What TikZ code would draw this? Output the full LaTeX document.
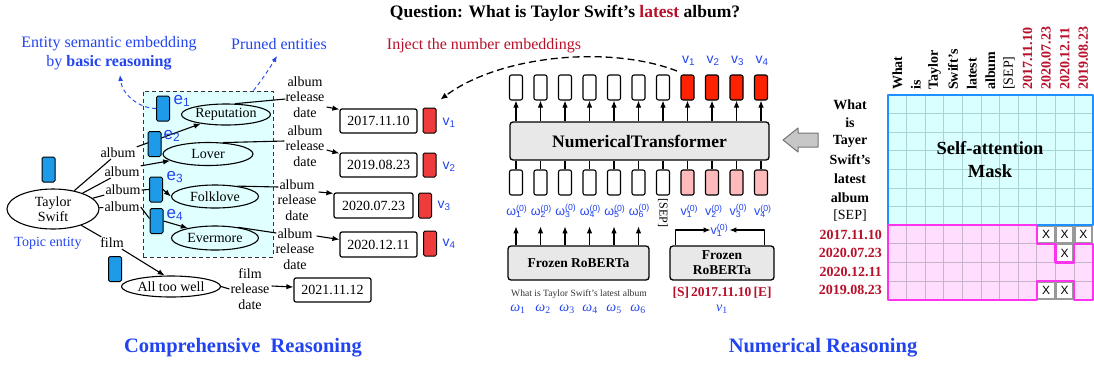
\documentclass[tikz,border=0pt]{standalone}
\usepackage{fontspec}
\setmainfont{Liberation Serif}
\setsansfont{Liberation Sans}
\usetikzlibrary{arrows.meta,shapes.geometric,calc}
\definecolor{myblue}{HTML}{2244F0}
\definecolor{dred}{HTML}{B8102A}
\definecolor{entblue}{HTML}{1E9BE8}
\definecolor{redbox}{HTML}{EE3B3B}
\definecolor{tred}{HTML}{FF2200}
\definecolor{tpink}{HTML}{FFBBBB}
\definecolor{lcyan}{HTML}{E0FFFF}
\definecolor{gcyan}{HTML}{DAFFFF}
\definecolor{gline}{HTML}{A8D4D4}
\definecolor{gpink}{HTML}{FFDDFF}
\definecolor{pline}{HTML}{C8B4C8}
\definecolor{mag}{HTML}{FF33EE}
\definecolor{bborder}{HTML}{1E90FF}
\definecolor{boxgray}{HTML}{E8E8E8}
\newcommand{\supsubz}[2]{#1\rlap{\textsuperscript{(0)}}\textsubscript{#2}}
\tikzset{
 ln/.style={line width=1.1pt},
 arr/.style={line width=1.1pt,-{Latex[length=7pt,width=5.5pt]}},
 lab/.style={font=\fontsize{14}{15.5}\selectfont, inner sep=1pt, align=center},
 ent/.style={ellipse, draw, line width=1.1pt, inner sep=0pt, font=\fontsize{14}{16}\selectfont, align=center},
 ebox/.style={draw, line width=1pt, fill=entblue, rounded corners=1.5pt, minimum width=13pt, minimum height=25pt, inner sep=0pt},
 datebox/.style={draw, line width=1.2pt, rounded corners=2pt, minimum width=77pt, minimum height=24pt, inner sep=0pt, font=\fontsize{14}{16}\selectfont},
 rbox/.style={draw, line width=1pt, fill=redbox, rounded corners=1.5pt, minimum width=13pt, minimum height=25pt, inner sep=0pt},
 tok/.style={draw, line width=1.1pt, rounded corners=2pt, minimum width=13pt, minimum height=25pt, inner sep=0pt},
 bigbox/.style={draw, line width=1.3pt, fill=boxgray, rounded corners=3pt, inner sep=0pt, font=\bfseries\fontsize{13.5}{15}\selectfont, align=center},
 bluetxt/.style={text=myblue, font=\fontsize{16}{19}\selectfont, align=center, inner sep=0pt},
 vlab/.style={text=myblue, font=\sffamily\fontsize{14}{16}\selectfont, inner sep=0pt},
 zlab/.style={text=myblue, font=\sffamily\fontsize{12.5}{14}\selectfont, inner sep=0pt},
 wlab/.style={text=myblue, font=\fontsize{14}{16}\selectfont, inner sep=0pt},
 elab/.style={text=myblue, font=\sffamily\fontsize{17}{19}\selectfont, inner sep=0pt},
 glab/.style={font=\bfseries\fontsize{14}{16}\selectfont, inner sep=0pt},
 glabr/.style={font=\fontsize{14}{16}\selectfont, inner sep=0pt},
 bdash/.style={myblue, line width=0.9pt, dash pattern=on 4pt off 3pt, -{Latex[length=6pt,width=5pt]}},
}
\begin{document}
\begin{tikzpicture}[x=1pt,y=-1pt,line join=round]
\path[use as bounding box] (0,0) rectangle (1094,365);

% ---------- titles ----------
\node[font=\bfseries\fontsize{17.5}{20}\selectfont] (title) at (565,13) {Question: What is Taylor Swift’s \textcolor{dred}{latest} album?};
\node[text=myblue, font=\bfseries\fontsize{20.5}{24}\selectfont] (ct) at (243,348) {Comprehensive\ \ Reasoning};
\node[text=myblue, font=\bfseries\fontsize{20.5}{24}\selectfont] (nt) at (823,348) {Numerical Reasoning};

% ---------- comprehensive reasoning ----------
\node[draw=black!80, line width=1pt, dash pattern=on 4pt off 3pt, fill=lcyan, minimum width=130pt, minimum height=166pt, inner sep=0pt] (prune) at (208,174) {};
\node[bluetxt] (esl) at (109,53) {Entity semantic embedding\\by \textbf{basic reasoning}};
\node[bluetxt] (pel) at (279,44) {Pruned entities};
\node[text=myblue, font=\fontsize{14}{16}\selectfont, inner sep=0pt] (tel) at (48,243) {Topic entity};

\node[ent, fill=white, minimum width=92pt, minimum height=40pt] (ts) at (53,209) {Taylor\\[-1pt]Swift};
\node[ent, fill=lcyan, minimum width=89pt, minimum height=21pt] (rep) at (226,114.5) {Reputation};
\node[ent, fill=lcyan, minimum width=90pt, minimum height=23pt] (lover) at (208,154) {Lover};
\node[ent, fill=lcyan, minimum width=87pt, minimum height=23pt] (folk) at (215,196.5) {Folklove};
\node[ent, fill=lcyan, minimum width=87pt, minimum height=24pt] (ever) at (215,238) {Evermore};
\node[ent, fill=white, minimum width=99pt, minimum height=21pt] (atw) at (171,286.5) {All too well};

\node[lab] (a1) at (118,153) {album};
\node[lab] (a2) at (122,172) {album};
\node[lab] (a3) at (123,190) {album};
\node[lab] (a4) at (122,207) {album};
\node[lab] (f1) at (112,243) {film};

\draw[ln] (ts) -- (a1);
\draw[ln] (ts) -- (a2);
\draw[ln] (ts) -- (a3);
\draw[ln] (ts) -- (a4);
\draw[ln] (ts) -- (f1);
\draw[arr] (a1.north east) -- (rep.200);
\draw[arr] (a2.north east) -- (lover.190);
\draw[arr] (f1) -- (atw.120);

\node[ebox] (eb1) at (163,108.5) {};
\node[ebox] (eb2) at (154.5,144) {};
\node[ebox] (eb3) at (156,189.5) {};
\node[ebox] (eb4) at (156.5,221) {};
\node[ebox] (ebt) at (48.5,169.5) {};
\node[ebox] (eba) at (115,269) {};
\draw[ln] (a3.east) -- (eb3.west);
\draw[arr] (eb3.east) -- (folk.west);
\draw[ln] (a4.east) -- (eb4.160);
\draw[arr] (eb4.east) -- (ever.160);

\node[elab] (e1) at (182,101) {e\textsubscript{1}};
\node[elab] (e2) at (172,136) {e\textsubscript{2}};
\node[elab] (e3) at (175,177) {e\textsubscript{3}};
\node[elab] (e4) at (175,215) {e\textsubscript{4}};

\coordinate (tipA) at (120,75);
\coordinate (tipB) at (277,56);
\draw[bdash] (eb1.west) .. controls (138,108) and (122,94) .. (tipA);
\draw[bdash] ($(prune.north east)+(-20,0)$) .. controls (262,80) and (271,66) .. (tipB);

% date labels
\node[lab] (l1) at (305,97) {album\\release\\date};
\node[lab] (l2) at (305,146) {album\\release\\date};
\node[lab] (l3) at (297,200) {album\\release\\date};
\node[lab] (l4) at (295,249) {album\\release\\date};
\node[lab] (l5) at (250,289) {film\\release\\date};

\node[datebox] (d1) at (378.5,121) {2017.11.10};
\node[datebox] (d2) at (378.5,165) {2019.08.23};
\node[datebox, minimum width=79pt, minimum height=25pt] (d3) at (373.5,205.5) {2020.07.23};
\node[datebox, minimum height=25pt] (d4) at (378.5,244.5) {2020.12.11};
\node[datebox] (d5) at (332.5,290) {2021.11.12};

\node[rbox] (rv1) at (429.5,120.5) {};
\node[rbox, minimum height=24pt] (rv2) at (429.5,165) {};
\node[rbox] (rv3) at (425,205.5) {};
\node[rbox] (rv4) at (430,243.5) {};
\node[vlab] (vl1) at (449,123) {v\textsubscript{1}};
\node[vlab] (vl2) at (449,167) {v\textsubscript{2}};
\node[vlab] (vl3) at (444,206) {v\textsubscript{3}};
\node[vlab] (vl4) at (449,244) {v\textsubscript{4}};

\draw[ln] (rep.50) -- ($(l1.west)+(1,2)$);
\draw[ln] (lover.38) -- ($(l2.west)+(0,-5)$);
\draw[ln] (folk.25) -- ($(l3.west)+(2,-13)$);
\draw[ln] (ever.25) -- ($(l4.west)+(2,-16)$);
\draw[ln] (atw.east) -- (l5.west);
\draw[arr] ($(l1.east)+(1,10)$) -- ($(d1.north west)+(0,1)$);
\draw[arr] ($(l2.east)+(1,4)$) -- ($(d2.north west)+(0,1)$);
\draw[arr] ($(l3.east)+(1,-8)$) -- ($(d3.north west)+(0,1)$);
\draw[arr] ($(l4.east)+(1,-13)$) -- ($(d4.west)+(0,-5)$);
\draw[arr] ($(l5.east)+(1,-3)$) -- ($(d5.west)+(0,-3)$);

% ---------- numerical reasoning ----------
\node[text=dred, font=\fontsize{16}{18}\selectfont, inner sep=0pt] (inj) at (484,46) {Inject the number embeddings};

\node[bigbox, minimum width=259pt, minimum height=38pt, font=\bfseries\fontsize{17.5}{20}\selectfont] (tr) at (639.5,141) {NumericalTransformer};
\foreach \i in {0,...,6} {
  \node[tok, fill=white] (t\i) at ({516+24.5*\i},87.5) {};
  \node[tok, fill=white] (b\i) at ({516+24.5*\i},182.5) {};
}
\foreach \i in {7,...,10} {
  \node[tok, fill=tred] (t\i) at ({516+24.5*\i},87.5) {};
  \node[tok, fill=tpink] (b\i) at ({516+24.5*\i},182.5) {};
}
\foreach \i in {0,...,10} {
  \draw[arr] (tr.north -| t\i) -- (t\i.south);
  \draw[ln] (tr.south -| b\i) -- (b\i.north);
}
\foreach \k in {1,...,4} {
  \node[vlab] (vt\k) at ({516+24.5*(\k+6)+1},61) {v\textsubscript{\k}};
  \node[zlab] (vz\k) at ({516+24.5*(\k+6)-1},211) {\supsubz{v}{\k}};
}
\foreach \i [evaluate=\i as \j using int(\i+1)] in {0,...,5} {
  \node[zlab] (w\i) at ({516+24.5*\i-2},211) {\supsubz{ω}{\j}};
}
\node[font=\fontsize{12}{14}\selectfont, rotate=-90, inner sep=0pt] (sep) at (663,213) {[SEP]};

\node[bigbox, minimum width=141pt, minimum height=34pt] (fr1) at (578.5,263) {Frozen RoBERTa};
\node[bigbox, minimum width=104pt, minimum height=34pt] (fr2) at (722,263) {Frozen\\RoBERTa};
\foreach \i in {0,...,5} {
  \draw[arr] (fr1.north -| b\i) -- ++(0,-19);
}
\node[zlab] (v0) at (720,230) {\supsubz{v}{1}\hphantom{0}};
\draw[arr] ($(fr2.north west)+(6,0)$) |- (v0.west);
\draw[arr] ($(fr2.north east)+(-10,0)$) |- (v0.east);

\node[font=\fontsize{9.6}{11}\selectfont, text=black!80, inner sep=0pt] (q) at (579,294) {What is Taylor Swift’s latest album};
\node[font=\bfseries\fontsize{13.5}{15}\selectfont, text=dred, inner sep=0pt] (se) at (722,293) {[S]\,2017.11.10\,[E]};
\foreach \xx [count=\j] in {518,543,567,590,614,638} {
  \node[wlab] (om\j) at (\xx,309) {\textit{ω}\textsubscript{\j}};
}
\node[wlab] (vb) at (722,309) {\textit{v}\textsubscript{1}};

\coordinate (injs) at (677,71);
\draw[line width=1.3pt, dash pattern=on 7pt off 4pt, -{Latex[length=7pt,width=6pt]}] (injs) .. controls (610,45) and (500,55) .. ($(rv1.north east)+(4,-8)$);

% gray block arrow
\filldraw[fill=black!22, draw=black!55, line width=1pt] (783,140) -- (798,128) -- (798,133) -- (818,133) -- (818,147) -- (798,147) -- (798,152) -- cycle;

% ---------- attention mask grid ----------
\fill[gcyan] (888,95) rectangle (1092.6,225.2);
\fill[gpink] (888,225.2) rectangle (1092.6,299.6);
\foreach \i in {1,...,10} {
  \draw[gline, line width=0.9pt] ({888+18.6*\i},95) -- ({888+18.6*\i},225.2);
  \draw[pline, line width=0.9pt] ({888+18.6*\i},225.2) -- ({888+18.6*\i},299.6);
}
\foreach \j in {1,...,6} {
  \draw[gline, line width=0.9pt] (888,{95+18.6*\j}) -- (1092.6,{95+18.6*\j});
}
\foreach \j in {8,9,10} {
  \draw[pline, line width=0.9pt] (888,{95+18.6*\j}) -- (1092.6,{95+18.6*\j});
}
\foreach \c/\r in {8/7,9/7,10/7,9/8,8/10,9/10} {
  \fill[black!40] ({888+18.6*\c},{95+18.6*\r}) rectangle ++(18.6,18.6);
  \fill[white] ({888+18.6*\c+1.6},{95+18.6*\r+1.6}) rectangle ++(15.4,15.4);
  \node[font=\sffamily\fontsize{12}{12}\selectfont, inner sep=0pt] (x\c\r) at ({888+18.6*\c+9.3},{95+18.6*\r+9.3}) {X};
}
\draw[bborder, line width=2.2pt] (888,95) rectangle (1092.6,225.2);
\draw[mag, line width=2.2pt] (888,225.2) -- (1036.8,225.2) -- (1036.8,243.8) -- (1055.4,243.8) -- (1055.4,262.4) -- (1074,262.4) -- (1074,243.8) -- (1092.6,243.8) -- (1092.6,299.6) -- (1074,299.6) -- (1074,281) -- (1036.8,281) -- (1036.8,299.6) -- (888,299.6) -- cycle;

\node[font=\bfseries\fontsize{18.5}{23}\selectfont, align=center] (sam) at (990,160) {Self-attention\\Mask};

\foreach \t [count=\c from 0] in {What,is,Taylor,Swift’s,latest,album} {
  \node[glab, rotate=90, anchor=west] (col\c) at ({897.3+18.6*\c},90) {\t};
}
\node[glabr, rotate=90, anchor=west] (col6) at ({897.3+18.6*6},90) {[SEP]};
\foreach \t [count=\c from 7] in {2017.11.10,2020.07.23,2020.12.11,2019.08.23} {
  \node[glab, text=dred, rotate=90, anchor=west] (col\c) at ({897.3+18.6*\c},90) {\t};
}
\foreach \t [count=\r from 0] in {What,is,Tayer,Swift’s,latest,album} {
  \node[glab] (row\r) at (850,{104.3+18.6*\r}) {\t};
}
\node[glabr] (row6) at (850,{104.3+18.6*6}) {[SEP]};
\foreach \t [count=\r from 7] in {2017.11.10,2020.07.23,2020.12.11,2019.08.23} {
  \node[glab, text=dred, anchor=east] (row\r) at (882,{104.3+18.6*\r}) {\t};
}
\end{tikzpicture}
\end{document}
